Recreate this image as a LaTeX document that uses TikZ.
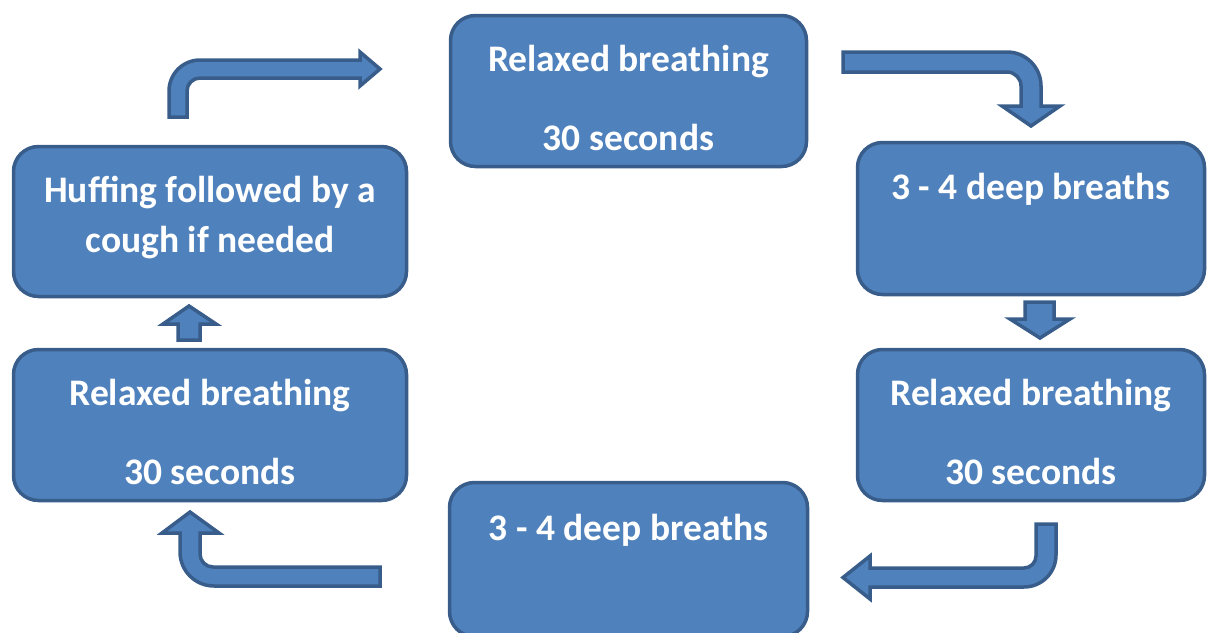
\documentclass[tikz,border=0pt]{standalone}
\usepackage{fontspec}
\setmainfont{Carlito}
\usetikzlibrary{positioning}
\definecolor{boxblue}{RGB}{79,129,189}
\definecolor{lineblue}{RGB}{56,93,138}
\newcommand{\stagetop}{\rule{0pt}{40pt}}
\tikzset{
stage/.style={draw=lineblue,fill=boxblue,line width=3.5pt,rounded corners=25pt,
 text=white,font=\fontsize{37.5}{79}\selectfont\bfseries,align=center,inner sep=0pt},
blockarrow/.style={draw=lineblue,fill=boxblue,line width=3.5pt,line join=miter}
}

\begin{document}
\begin{tikzpicture}[x=1pt,y=1pt]
\useasboundingbox (0,0) rectangle (1207,-632);

% the six stages
\node[stage,minimum width=356pt,minimum height=151pt] (relaxA) at (628.5,-91) {\stagetop Relaxed breathing\\30 seconds};
\node[stage,minimum width=347pt,minimum height=152pt] (deepA) at (1031,-218.5) {\stagetop 3 - 4 deep breaths\\\mbox{}};
\node[stage,minimum width=347pt,minimum height=151pt] (relaxB) at (1031,-425) {\stagetop Relaxed breathing\\30 seconds};
\node[stage,minimum width=358pt,minimum height=154pt] (deepB) at (628.5,-559.5) {\stagetop 3 - 4 deep breaths\\\mbox{}};
\node[stage,minimum width=393pt,minimum height=151pt] (relaxC) at (210,-425) {\stagetop Relaxed breathing\\30 seconds};
\node[stage,minimum width=393pt,minimum height=150pt,font=\fontsize{37.5}{50}\selectfont\bfseries] (huff) at (210,-221.5) {Huffing followed by a\\cough if needed\rule[-14pt]{0pt}{14pt}};

% bent arrows, clockwise from top left
\draw[blockarrow] (169,-117) -- (169,-91) arc[start angle=180,end angle=90,radius=31]
 -- (360,-60) -- (360,-52) -- (380,-69) -- (360,-86) -- (360,-78) -- (200,-78)
 arc[start angle=90,end angle=180,radius=13] -- (187,-117) -- cycle;
\draw[blockarrow] (843,-52) -- (1007,-52) arc[start angle=90,end angle=0,radius=34]
 -- (1041,-106) -- (1060,-106) -- (1031,-126) -- (1002,-106) -- (1021,-106)
 -- (1021,-86) arc[start angle=0,end angle=90,radius=14] -- (843,-72) -- cycle;
\draw[blockarrow] (1025,-302) -- (1054,-302) -- (1054,-319) -- (1070,-319) -- (1040,-338)
 -- (1010,-319) -- (1025,-319) -- cycle;
\draw[blockarrow] (1036,-524) -- (1056,-524) -- (1056,-555) arc[start angle=0,end angle=-90,radius=32]
 -- (870,-587) -- (870,-599) -- (843,-577.5) -- (870,-556) -- (870,-568)
 -- (1024,-568) arc[start angle=-90,end angle=0,radius=12] -- cycle;
\draw[blockarrow] (380,-567) -- (213,-567) arc[start angle=-90,end angle=-180,radius=13]
 -- (200,-533) -- (219,-533) -- (190,-512) -- (162,-533) -- (180,-533) -- (180,-552)
 arc[start angle=180,end angle=270,radius=34] -- (380,-586) -- cycle;
\draw[blockarrow] (178,-340) -- (200,-340) -- (200,-324) -- (216,-324) -- (189,-306)
 -- (163,-324) -- (178,-324) -- cycle;

\end{tikzpicture}
\end{document}
